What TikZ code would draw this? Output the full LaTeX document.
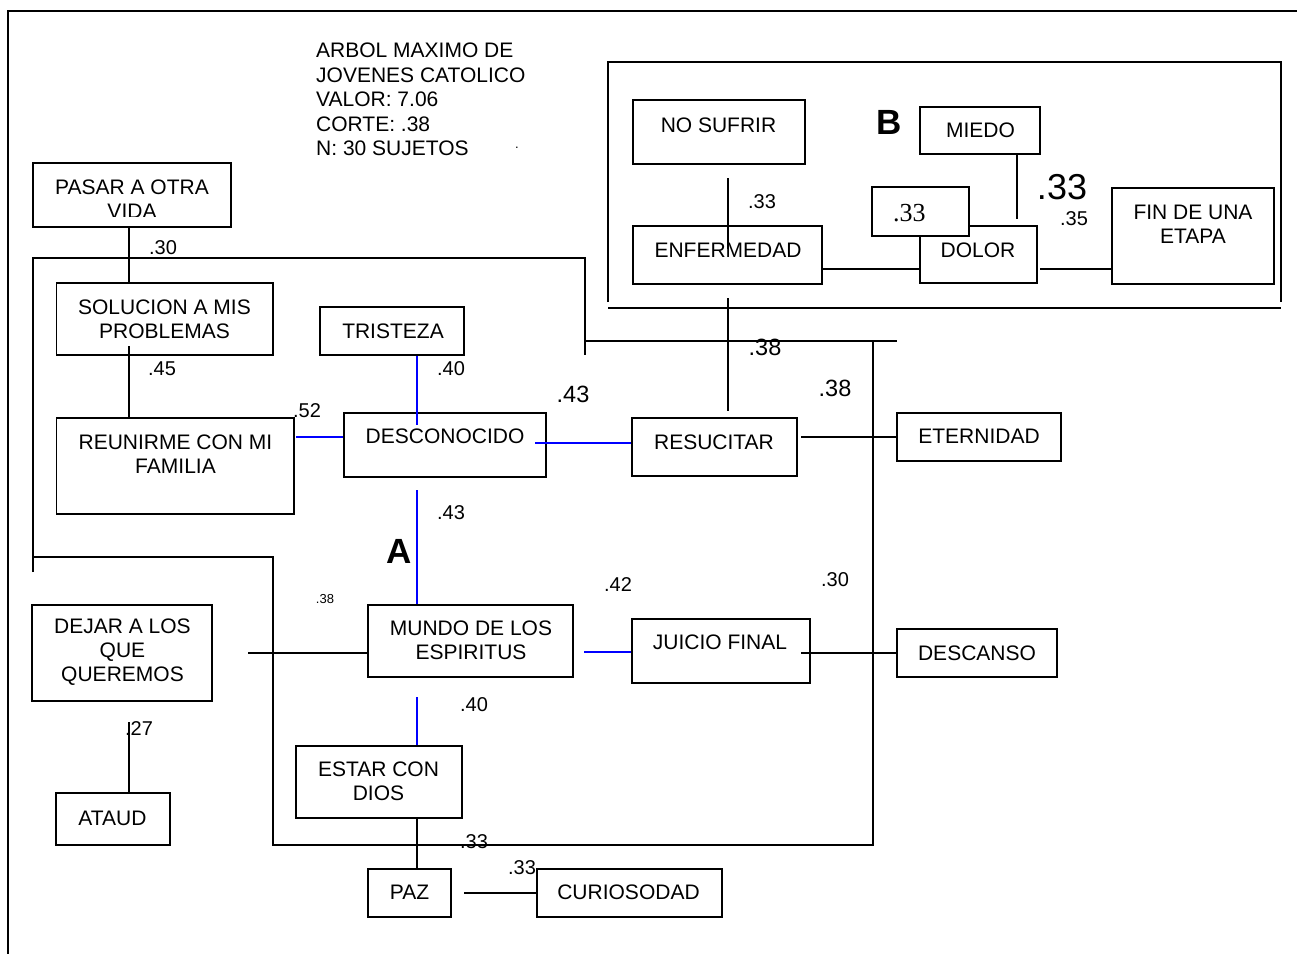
\documentclass[tikz,border=0pt]{standalone}
\usepackage{fontspec}
\setmainfont{Liberation Sans}
\newfontfamily\timesf{Liberation Serif}
\begin{document}
\begin{tikzpicture}[x=1pt,y=-1pt,
  box/.style={draw,line width=1.5pt,inner sep=0pt},
  txt/.style={inner sep=0pt,align=center,font=\fontsize{21}{24}\selectfont},
  lbl/.style={inner sep=0pt,font=\fontsize{20}{23}\selectfont},
  biglbl/.style={inner sep=0pt,font=\fontsize{23.5}{26}\selectfont},
  ln/.style={line width=1.5pt},
  bl/.style={line width=1.5pt,draw=blue}]
\useasboundingbox (0,0) rectangle (1297,954);
% frames
\draw[ln] (1297,11) -- (8,11) -- (8,954);
\draw[ln] (33,572) -- (33,258) -- (585,258) -- (585,355);
\draw[ln] (585,341) -- (897,341);
\draw[ln] (33,557) -- (273,557) -- (273,845) -- (873,845) -- (873,341);
\draw[ln] (608,302) -- (608,62) -- (1281,62) -- (1281,302);
\draw[ln] (608,308) -- (1281,308);
% title
\node[inner sep=0pt,anchor=west,align=left,font=\fontsize{21}{24.5}\selectfont] (title) at (316,99.5)
  {ARBOL MAXIMO DE\\JOVENES CATOLICO\\VALOR: 7.06\\CORTE: .38\\N: 30 SUJETOS};
\node[inner sep=0pt,font=\fontsize{13}{14}\selectfont] (dot) at (517,148) {.};
% boxes
\node[box,minimum width=198pt,minimum height=64pt] (pasar) at (132,195) {};
\node[box,minimum width=216.5pt,minimum height=72pt] (sol) at (164.75,319) {};
\node[box,minimum width=144pt,minimum height=48pt] (tri) at (392,331) {};
\node[box,minimum width=237.5pt,minimum height=96pt] (reu) at (175.25,466) {};
\node[box,minimum width=202pt,minimum height=64pt] (des) at (445,445) {};
\node[box,minimum width=165pt,minimum height=58pt] (res) at (714.5,447) {};
\node[box,minimum width=164pt,minimum height=48pt] (ete) at (979,437) {};
\node[box,minimum width=180pt,minimum height=96pt] (dej) at (122,653) {};
\node[box,minimum width=205pt,minimum height=72pt] (mun) at (470.5,641) {};
\node[box,minimum width=178pt,minimum height=64pt] (jui) at (721,651) {};
\node[box,minimum width=160pt,minimum height=48pt] (desc) at (977,653) {};
\node[box,minimum width=166pt,minimum height=72pt] (est) at (379,782) {};
\node[box,minimum width=114pt,minimum height=52pt] (ata) at (113,819) {};
\node[box,minimum width=83pt,minimum height=48pt] (paz) at (409.5,893) {};
\node[box,minimum width=185pt,minimum height=48pt] (cur) at (629.5,893) {};
\node[box,minimum width=172pt,minimum height=64pt] (nos) at (719,132) {};
\node[box,minimum width=120pt,minimum height=47pt] (mie) at (980,130.5) {};
\node[box,minimum width=189pt,minimum height=58pt] (enf) at (727.5,255) {};
\node[box,minimum width=117pt,minimum height=57pt] (dol) at (978.5,254.5) {};
\node[box,minimum width=162pt,minimum height=96pt] (fin) at (1193,236) {};
\node[box,fill=white,minimum width=97pt,minimum height=49pt] (t33) at (920.5,211.5) {};
% box texts
\begin{scope}
\clip (33,163) rectangle (231,216);
\node[txt] (pasar-t) at (132,199) {PASAR A OTRA\\VIDA};
\end{scope}
\node[txt] (sol-t) at (164.5,319) {SOLUCION A MIS\\PROBLEMAS};
\node[txt] (tri-t) at (393,331) {TRISTEZA};
\node[txt] (reu-t) at (175.5,454) {REUNIRME CON MI\\FAMILIA};
\node[txt] (des-t) at (445,436) {DESCONOCIDO};
\node[txt] (res-t) at (714,442) {RESUCITAR};
\node[txt] (ete-t) at (979,436) {ETERNIDAD};
\node[txt] (jui-t) at (720,642) {JUICIO FINAL};
\node[txt] (desc-t) at (977,653) {DESCANSO};
\node[txt] (dej-t) at (122.5,652.5) {DEJAR A LOS\\QUE\\QUEREMOS};
\node[txt] (mun-t) at (471,640.5) {MUNDO DE LOS\\ESPIRITUS};
\node[txt] (est-t) at (378.5,781.5) {ESTAR CON\\DIOS};
\node[txt] (ata-t) at (112.5,818) {ATAUD};
\node[txt] (paz-t) at (409.5,892) {PAZ};
\node[txt] (cur-t) at (628.5,892) {CURIOSODAD};
\node[txt] (nos-t) at (718.5,125) {NO SUFRIR};
\node[txt] (mie-t) at (980.5,130) {MIEDO};
\node[txt] (enf-t) at (728,250) {ENFERMEDAD};
\node[txt] (dol-t) at (978,250) {DOLOR};
\node[txt] (fin-t) at (1193,224) {FIN DE UNA\\ETAPA};
\node[inner sep=0pt,anchor=west,font=\timesf\fontsize{26}{28}\selectfont] (t33-t) at (893,213) {.33};
% labels
\node[lbl] (l1) at (163,248) {.30};
\node[lbl] (l2) at (162,369) {.45};
\node[lbl] (l3) at (451,369) {.40};
\node[biglbl] (l4) at (573,394) {.43};
\node[lbl] (l5) at (307,411) {.52};
\node[biglbl] (l6) at (765,347) {.38};
\node[biglbl] (l7) at (835,388) {.38};
\node[lbl] (l8) at (451,513) {.43};
\node[inner sep=0pt,font=\bfseries\fontsize{35}{38}\selectfont] (lA) at (399,551) {A};
\node[lbl] (l9) at (618,585) {.42};
\node[lbl] (l10) at (835,580) {.30};
\node[inner sep=0pt,font=\fontsize{13}{14}\selectfont] (l11) at (325,599) {.38};
\node[lbl] (l12) at (474,705) {.40};
\node[lbl] (l13) at (139,729) {.27};
\node[lbl] (l14) at (474,842) {.33};
\node[lbl] (l15) at (522,868) {.33};
\node[inner sep=0pt,font=\bfseries\fontsize{35}{38}\selectfont] (lB) at (889,122) {B};
\node[inner sep=0pt,font=\fontsize{36}{38}\selectfont] (l16) at (1062,187) {.33};
\node[lbl] (l17) at (1074,219) {.35};
\node[lbl] (l18) at (762,202) {.33};
% connector coordinates
\coordinate (c-pas) at (129,0);
\coordinate (c-sol) at (129,346);
\coordinate (c-reu) at (296,437);
\coordinate (c-tri) at (417,425);
\coordinate (c-des) at (535,443);
\coordinate (c-desd) at (417,490);
\coordinate (c-mun) at (584,652);
\coordinate (c-mund) at (417,697);
\coordinate (c-dej) at (248,653);
\coordinate (c-ata) at (129,722);
\coordinate (c-est) at (417,0);
\coordinate (c-paz) at (464,893);
\coordinate (c-res) at (801,437);
\coordinate (c-jui) at (801,653);
\coordinate (c-nos) at (728,178);
\coordinate (c-enfi) at (728,249);
\coordinate (c-enf) at (0,269);
\coordinate (c-dol) at (1040,269);
\coordinate (c-mie) at (1017,219);
\coordinate (c-enfb) at (728,298);
\coordinate (c-resu) at (728,411);
% connectors
\draw[ln] (pasar.south -| c-pas) -- (sol.north -| c-pas);
\draw[ln] (c-sol) -- (c-sol |- reu.north);
\draw[bl] (c-reu) -- (c-reu -| des.west);
\draw[bl] (c-tri |- tri.south) -- (c-tri);
\draw[bl] (c-des) -- (c-des -| res.west);
\draw[bl] (c-desd) -- (c-desd |- mun.north);
\draw[bl] (c-mun) -- (c-mun -| jui.west);
\draw[bl] (c-mund) -- (c-mund |- est.north);
\draw[ln] (c-dej) -- (c-dej -| mun.west);
\draw[ln] (c-ata) -- (c-ata |- ata.north);
\draw[ln] (est.south -| c-est) -- (paz.north -| c-est);
\draw[ln] (c-paz) -- (c-paz -| cur.west);
\draw[ln] (c-res) -- (c-res -| ete.west);
\draw[ln] (c-jui) -- (c-jui -| desc.west);
\draw[ln] (c-nos) -- (c-enfi);
\draw[ln] (enf.east |- c-enf) -- (dol.west |- c-enf);
\draw[ln] (c-dol) -- (c-dol -| fin.west);
\draw[ln] (mie.south -| c-mie) -- (c-mie);
\draw[ln] (c-enfb) -- (c-resu);
\end{tikzpicture}
\end{document}
